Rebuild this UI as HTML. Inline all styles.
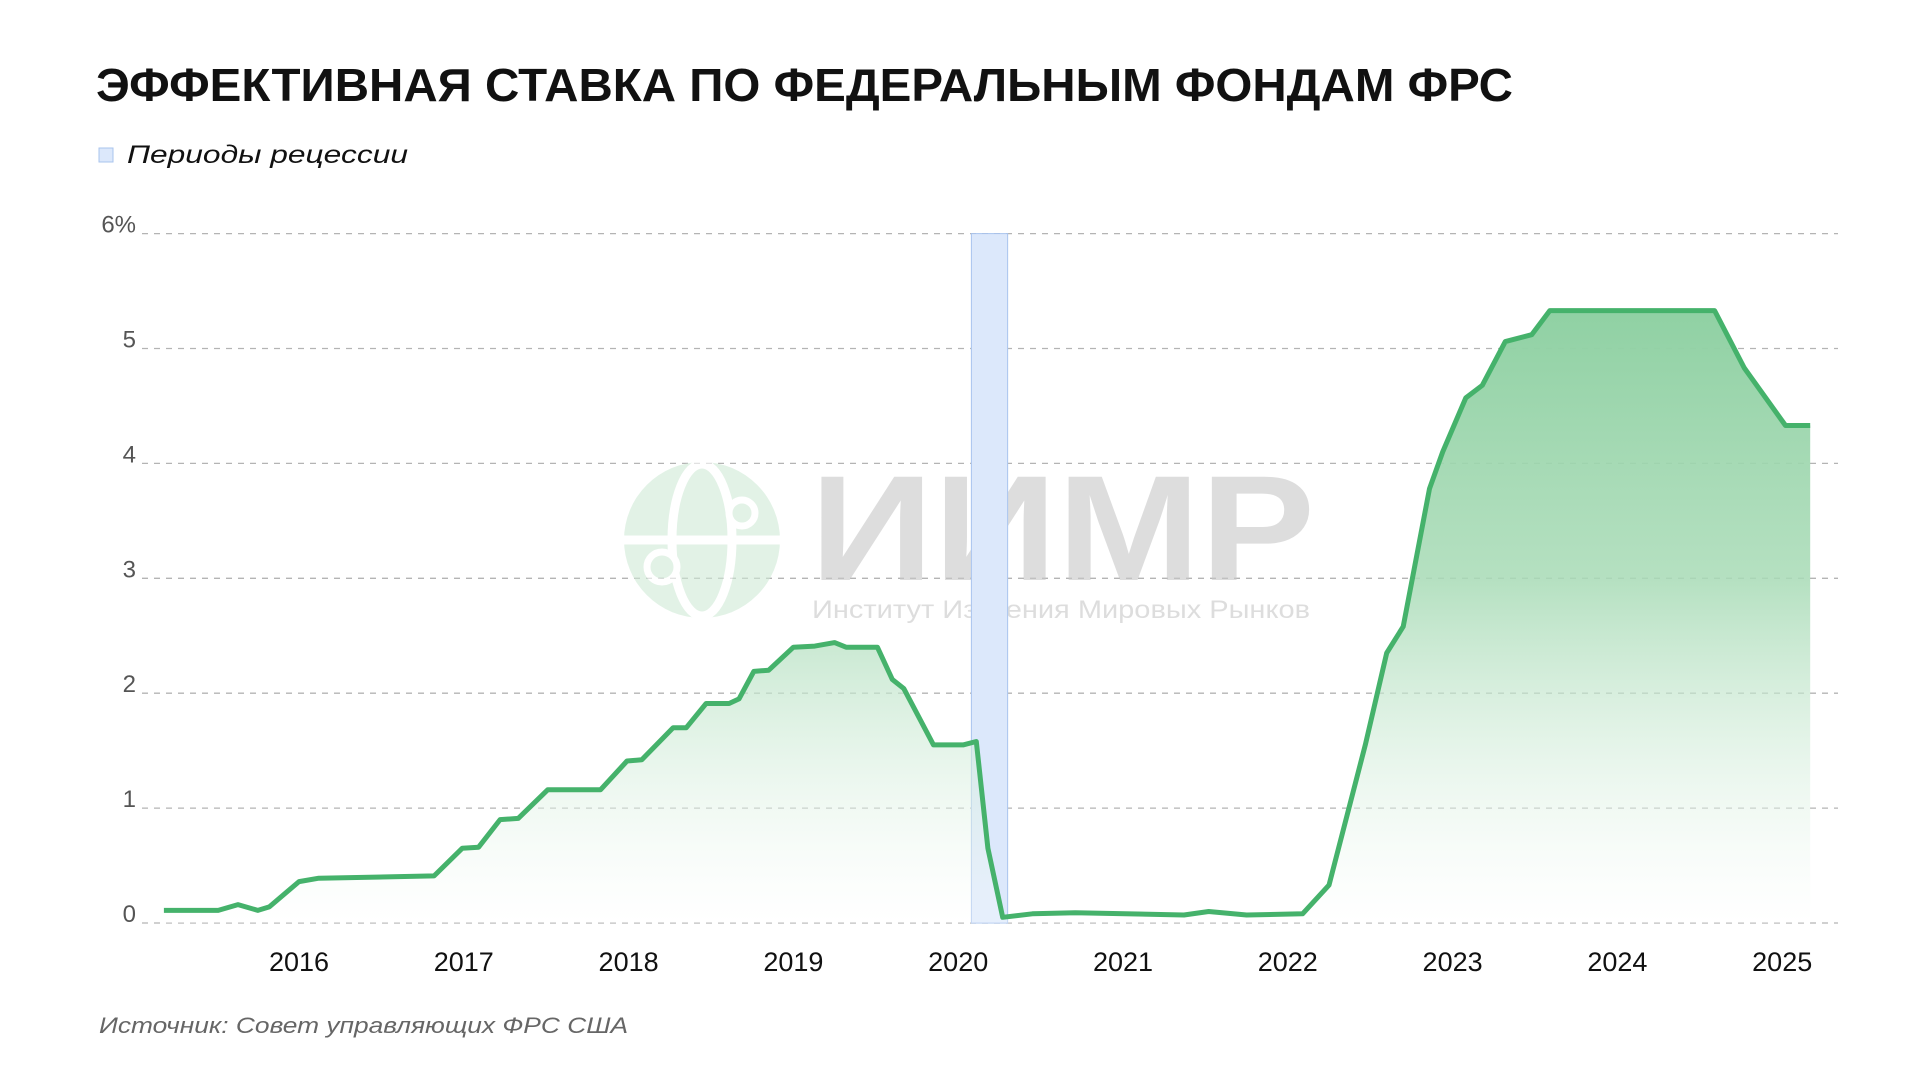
<!DOCTYPE html>
<html><head><meta charset="utf-8"><style>
html,body{margin:0;padding:0;background:#fff;}
svg{display:block;}
</style></head><body>
<svg id="chart" width="1921" height="1081" viewBox="0 0 1921 1081" xmlns="http://www.w3.org/2000/svg" font-family="'Liberation Sans', sans-serif">
<defs>
<linearGradient id="fillGrad" gradientUnits="userSpaceOnUse" x1="0" y1="300" x2="0" y2="923">
<stop offset="0" stop-color="#8ed0a2" stop-opacity="1"/>
<stop offset="0.45" stop-color="#a8dbb6" stop-opacity="0.85"/>
<stop offset="1" stop-color="#ffffff" stop-opacity="0.3"/>
</linearGradient>
</defs>
<text x="96" y="101" font-size="46" font-weight="bold" fill="#111" textLength="1417" lengthAdjust="spacingAndGlyphs">ЭФФЕКТИВНАЯ СТАВКА ПО ФЕДЕРАЛЬНЫМ ФОНДАМ ФРС</text>
<rect x="99" y="148" width="14" height="14" fill="#dce8fb" stroke="#a9c4ee" stroke-width="1"/>
<text x="127" y="163" font-size="25" font-style="italic" fill="#111" textLength="281" lengthAdjust="spacingAndGlyphs">Периоды рецессии</text>
<g id="grid"></g>
<g id="wm" opacity="0.6">
<circle cx="702" cy="540" r="78" fill="#cfead6"/>
<ellipse cx="702" cy="540" rx="30" ry="76" fill="none" stroke="#fff" stroke-width="9"/>
<line x1="624" y1="540" x2="780" y2="540" stroke="#fff" stroke-width="9"/>
<circle cx="742" cy="513" r="13" fill="#cfead6" stroke="#fff" stroke-width="7"/>
<circle cx="662" cy="567" r="15" fill="#cfead6" stroke="#fff" stroke-width="7"/>
<text x="810" y="580" font-size="150" font-weight="bold" fill="#c8c8c8" textLength="505" lengthAdjust="spacingAndGlyphs">ИИМР</text>
<text x="812" y="618" font-size="25" fill="#c8c8c8" textLength="498" lengthAdjust="spacingAndGlyphs">Институт Изучения Мировых Рынков</text>
</g>
<rect id="recession" fill="#dce8fb" stroke="#a9c4ee" stroke-width="1"/>
<path id="area" fill="url(#fillGrad)"/>
<path id="line" fill="none" stroke="#45b26b" stroke-width="5" stroke-linejoin="round"/>
<g id="xaxis"></g>
<text x="99" y="1033" font-size="22" font-style="italic" fill="#666" textLength="529" lengthAdjust="spacingAndGlyphs">Источник: Совет управляющих ФРС США</text>
</svg>
<script>
const dates = [2015.18,2015.51,2015.63,2015.75,2015.82,2016.0,2016.12,2016.82,2016.99,2017.09,2017.22,2017.33,2017.51,2017.83,2017.99,2018.08,2018.27,2018.35,2018.47,2018.61,2018.67,2018.76,2018.85,2019.0,2019.13,2019.25,2019.32,2019.51,2019.6,2019.67,2019.85,2020.03,2020.11,2020.18,2020.27,2020.45,2020.71,2021.37,2021.52,2021.75,2022.09,2022.25,2022.47,2022.6,2022.7,2022.86,2022.94,2023.08,2023.18,2023.32,2023.48,2023.59,2024.59,2024.77,2024.81,2025.02,2025.17];
const rates = [0.11,0.11,0.16,0.11,0.14,0.36,0.39,0.41,0.65,0.66,0.90,0.91,1.16,1.16,1.41,1.42,1.70,1.70,1.91,1.91,1.95,2.19,2.20,2.40,2.41,2.44,2.40,2.40,2.12,2.04,1.55,1.55,1.58,0.65,0.05,0.08,0.09,0.07,0.10,0.07,0.08,0.33,1.55,2.35,2.58,3.78,4.10,4.57,4.68,5.06,5.12,5.33,5.33,4.83,4.75,4.33,4.33];
const yTicks = [0,1,2,3,4,5,6];
const yTickLabels = ["0","1","2","3","4","5","6%"];
const xTicks = [2016,2017,2018,2019,2020,2021,2022,2023,2024,2025];
const recession = [2020.08,2020.3];

const NS = "http://www.w3.org/2000/svg";
const x = t => 299 + (t - 2016) * 164.8;
const y = v => 923 - v * 114.9;

const grid = document.getElementById('grid');
yTicks.forEach((v, i) => {
  const l = document.createElementNS(NS, 'line');
  
  
  l.setAttribute('x1', 142); l.setAttribute('x2', 1838);
  l.setAttribute('y1', y(v)); l.setAttribute('y2', y(v));
  l.setAttribute('stroke', '#b4b4b4'); l.setAttribute('stroke-width', '1.3');
  l.setAttribute('stroke-dasharray', '6 6');
  grid.appendChild(l);
  const t = document.createElementNS(NS, 'text');
  
  
  t.setAttribute('x', 136); t.setAttribute('y', y(v) - 1);
  t.setAttribute('text-anchor', 'end'); t.setAttribute('font-size', '24');
  t.setAttribute('fill', '#555');
  t.textContent = yTickLabels[i];
  grid.appendChild(t);
});

const rec = document.getElementById('recession');
rec.setAttribute('x', x(recession[0])); rec.setAttribute('width', x(recession[1]) - x(recession[0]));
rec.setAttribute('y', y(6)); rec.setAttribute('height', y(0) - y(6));

let d = '';
dates.forEach((t, i) => { d += (i ? 'L' : 'M') + x(t).toFixed(1) + ',' + y(rates[i]).toFixed(1); });
document.getElementById('line').setAttribute('d', d);
document.getElementById('area').setAttribute('d', d + 'L' + x(dates[dates.length-1]).toFixed(1) + ',' + y(0) + 'L' + x(dates[0]).toFixed(1) + ',' + y(0) + 'Z');

const xa = document.getElementById('xaxis');
xTicks.forEach(v => {
  const t = document.createElementNS(NS, 'text');
  
  
  t.setAttribute('x', x(v)); t.setAttribute('y', 971);
  t.setAttribute('text-anchor', 'middle'); t.setAttribute('font-size', '27');
  t.setAttribute('fill', '#111');
  t.textContent = v;
  xa.appendChild(t);
});
</script>
</body></html>
